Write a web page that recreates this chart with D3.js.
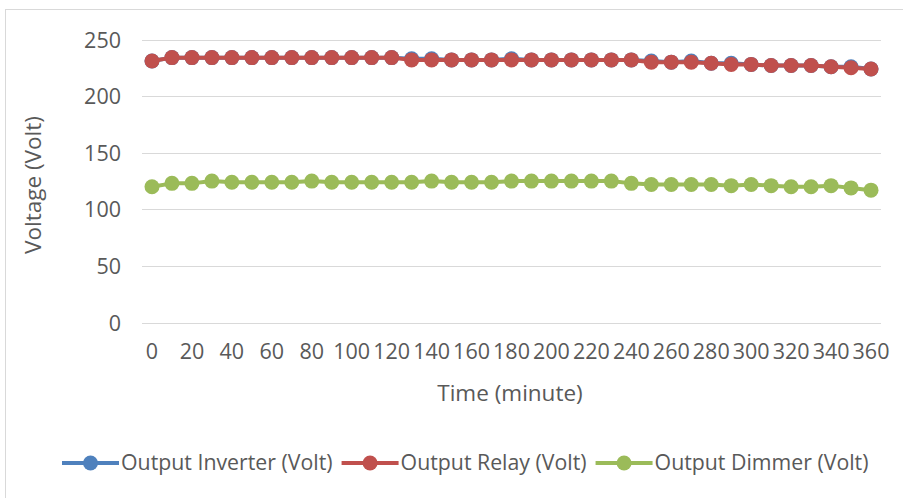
<!DOCTYPE html>
<html>
<head>
<meta charset="utf-8">
<script src="https://cdn.jsdelivr.net/npm/d3@7"></script>
<style>
  html, body { margin: 0; padding: 0; background: #fff; }
  svg { display: block; }
  text { font-family: "Open Sans", "Noto Sans", sans-serif; fill: #595959; }
</style>
</head>
<body>
<svg id="chart" width="903" height="498"></svg>
<script>
// Sampling times (minutes), every 10 minutes over 6 hours
const times = [0,10,20,30,40,50,60,70,80,90,100,110,120,130,140,150,160,170,180,
               190,200,210,220,230,240,250,260,270,280,290,300,310,320,330,340,350,360];

// Measured output voltages (Volt)
const inverterVolt = [231,234,234,234,234,234,234,234,234,234,234,234,234,233,233,232,232,232,233,
                      232,232,232,232,232,232,231,230,231,229,229,228,227,227,227,226,226,224];
const relayVolt    = [231,234,234,234,234,234,234,234,234,234,234,234,234,232,232,232,232,232,232,
                      232,232,232,232,232,232,230,230,230,229,228,228,227,227,227,226,225,224];
const dimmerVolt   = [120,123,123,125,124,124,124,124,125,124,124,124,124,124,125,124,124,124,125,
                      125,125,125,125,125,123,122,122,122,122,121,122,121,120,120,121,119,117];

const seriesNames  = ["Output Inverter (Volt)", "Output Relay (Volt)", "Output Dimmer (Volt)"];
const seriesColors = ["#4f81bd", "#c0504d", "#9bbb59"];
const yTicks = [0, 50, 100, 150, 200, 250];
const xTickLabels = times.filter(t => t % 20 === 0);

const series = [inverterVolt, relayVolt, dimmerVolt].map((vals, i) => ({
  name: seriesNames[i], color: seriesColors[i],
  points: vals.map((v, j) => ({ t: times[j], v }))
}));

const svg = d3.select("#chart");

// outer chart frame
svg.append("rect")
  .attr("x", 5.5).attr("y", 9.5).attr("width", 910).attr("height", 500)
  .attr("fill", "none").attr("stroke", "#d9d9d9").attr("stroke-width", 1);

const plot = { left: 142, right: 881, top: 39.5, bottom: 322.7 };

const x = d3.scaleBand().domain(times).range([plot.left, plot.right]).padding(0);
const cx = t => x(t) + x.bandwidth() / 2;
const y = d3.scaleLinear().domain([0, 250]).range([plot.bottom, plot.top]);

const tickFont = 21.5;

// horizontal gridlines
svg.append("g")
  .selectAll("line").data(yTicks).join("line")
  .attr("x1", plot.left).attr("x2", plot.right)
  .attr("y1", d => Math.round(y(d)) + 0.5).attr("y2", d => Math.round(y(d)) + 0.5)
  .attr("stroke", "#d9d9d9").attr("stroke-width", 1);

// y axis labels
const yAxis = d3.axisLeft(y).tickValues(yTicks).tickSize(0).tickPadding(0);
svg.append("g").attr("transform", "translate(121,0)").call(yAxis)
  .call(g => g.select(".domain").remove())
  .selectAll("text")
  .attr("font-size", tickFont).attr("font-family", "\"Open Sans\", sans-serif")
  .attr("fill", "#595959").attr("dy", "0.35em");

// x axis labels (every other category)
const xAxis = d3.axisBottom(x).tickValues(xTickLabels).tickSize(0).tickPadding(0);
svg.append("g").attr("transform", "translate(0,344)").call(xAxis)
  .call(g => g.select(".domain").remove())
  .selectAll("text")
  .attr("font-size", tickFont).attr("font-family", "\"Open Sans\", sans-serif")
  .attr("fill", "#595959").attr("dy", "0.71em");

// axis titles
svg.append("text").attr("x", 510).attr("y", 401).attr("text-anchor", "middle")
  .attr("font-size", 22.5).text("Time (minute)");
svg.append("text").attr("transform", "translate(41,185) rotate(-90)")
  .attr("text-anchor", "middle").attr("font-size", 22.5).text("Voltage (Volt)");

// series lines and markers
const line = d3.line().x(d => cx(d.t)).y(d => y(d.v));
series.forEach(s => {
  const g = svg.append("g");
  g.append("path").datum(s.points).attr("d", line)
    .attr("fill", "none").attr("stroke", s.color).attr("stroke-width", 4)
    .attr("stroke-linejoin", "round");
  g.selectAll("circle").data(s.points).join("circle")
    .attr("cx", d => cx(d.t)).attr("cy", d => y(d.v)).attr("r", 7.5)
    .attr("fill", s.color);
});

// legend
const legend = svg.append("g").attr("transform", "translate(0,463)");
let lx = 62;
series.forEach(s => {
  const item = legend.append("g");
  item.append("line").attr("x1", lx).attr("x2", lx + 57).attr("y1", 0).attr("y2", 0)
    .attr("stroke", s.color).attr("stroke-width", 4);
  item.append("circle").attr("cx", lx + 28.5).attr("cy", 0).attr("r", 7.5).attr("fill", s.color);
  const t = item.append("text").attr("x", lx + 59).attr("y", 0).attr("dy", "0.35em")
    .attr("font-size", 21.3).text(s.name);
  lx += 59 + t.node().getComputedTextLength() + 9;
});
</script>
</body>
</html>
